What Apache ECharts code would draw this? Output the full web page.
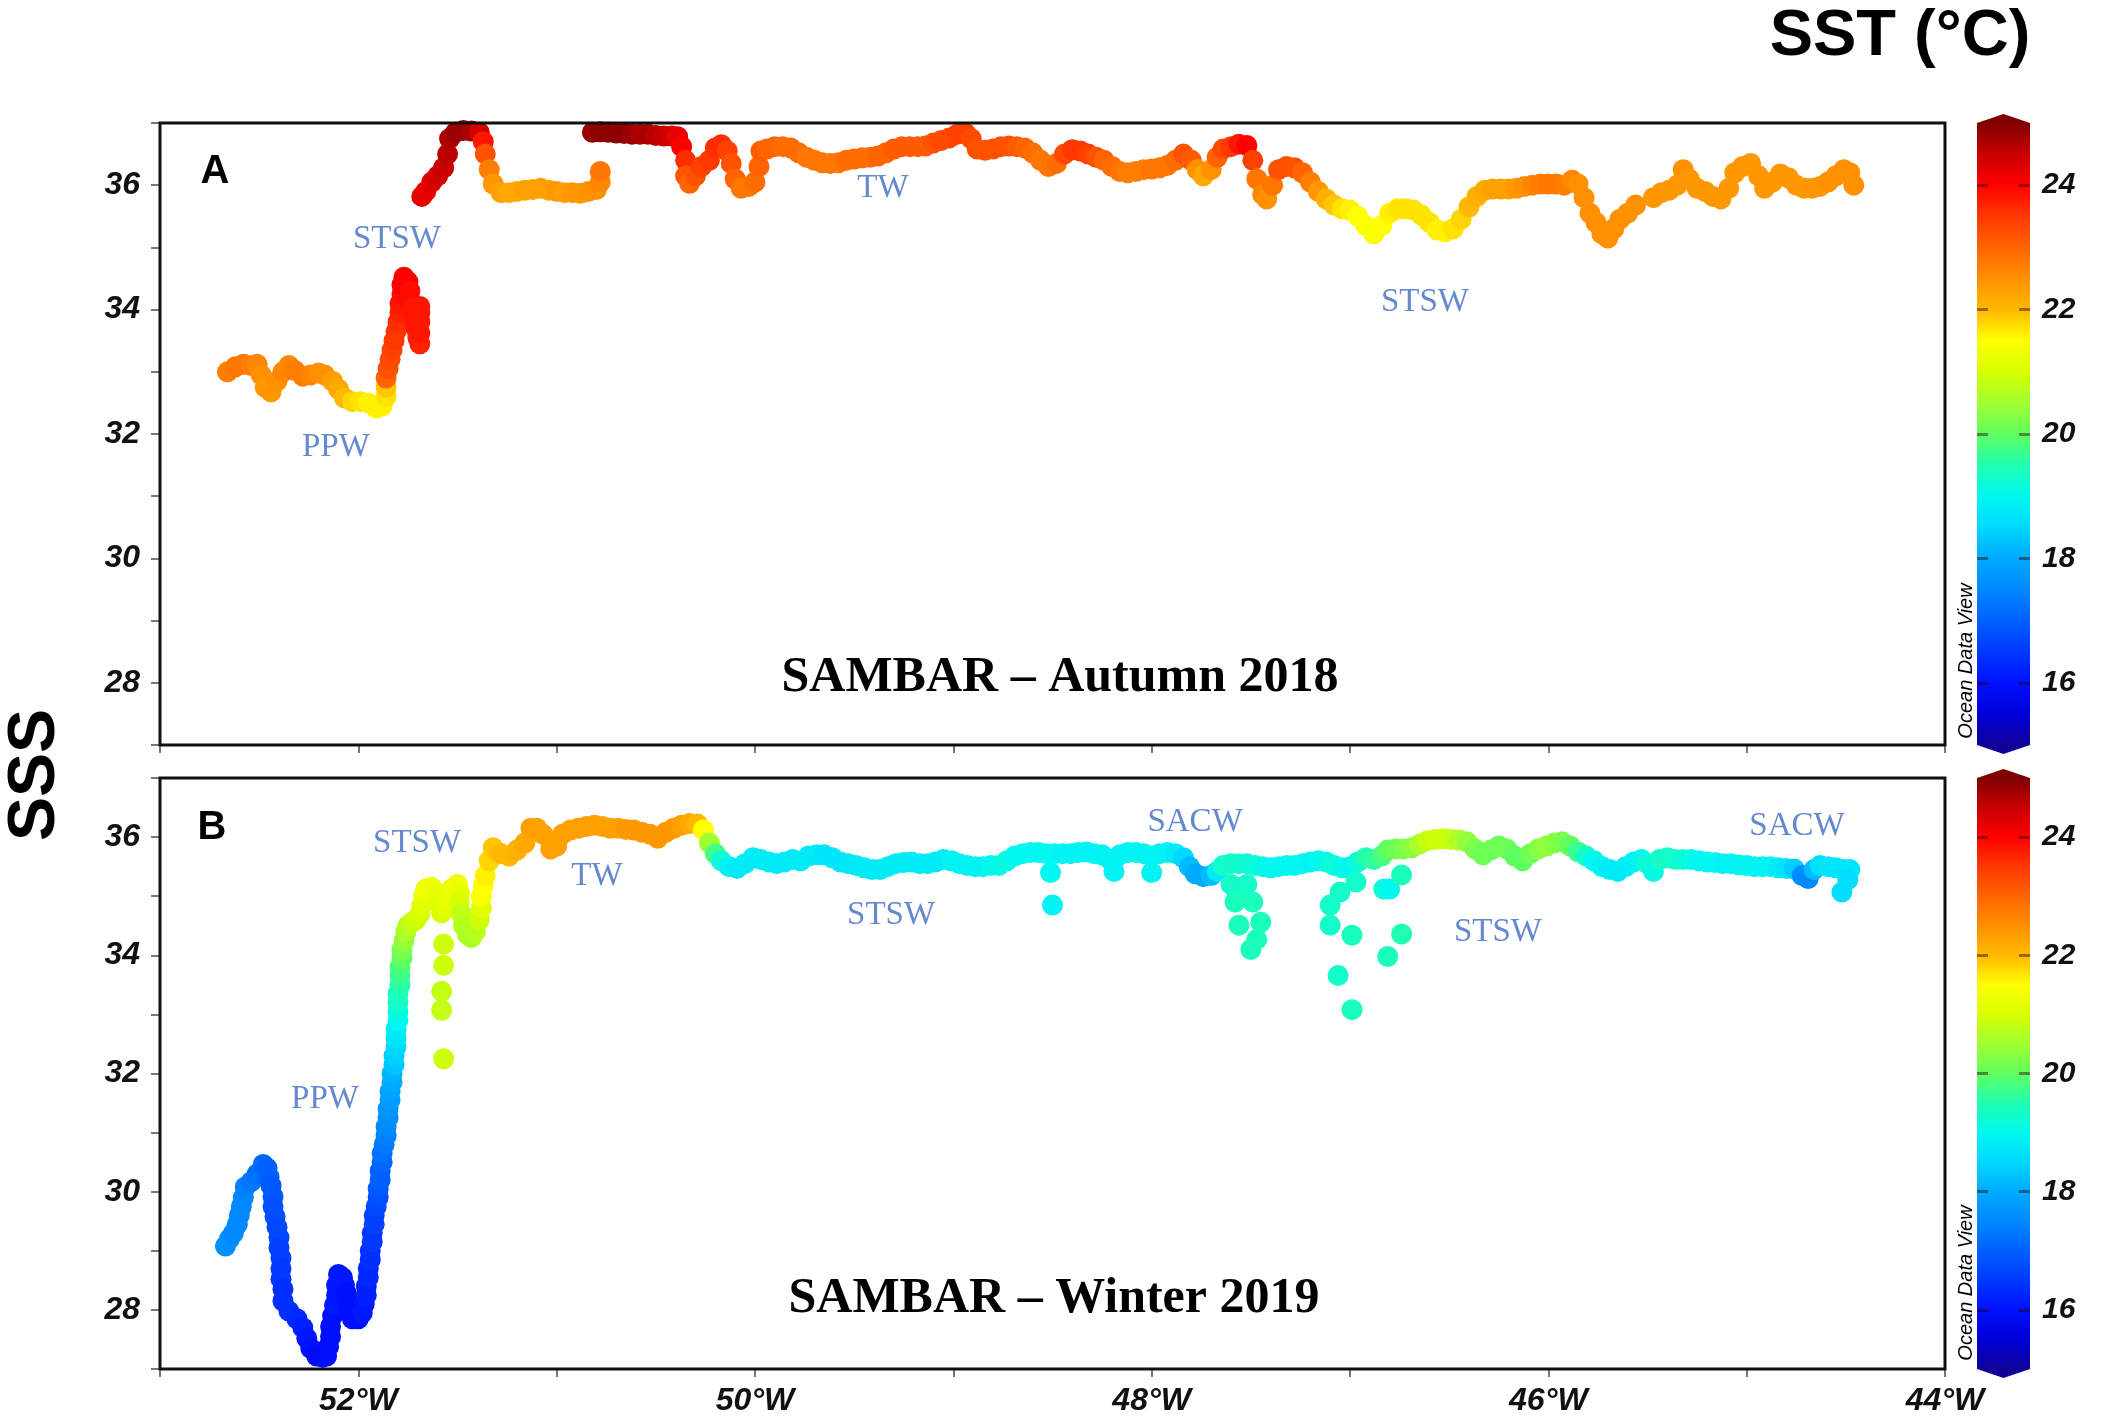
<!DOCTYPE html>
<html>
<head>
<meta charset="utf-8">
<title>SAMBAR SSS / SST</title>
<script src="https://cdn.jsdelivr.net/npm/echarts@6.0.0/dist/echarts.min.js"></script>
<style>
html, body { margin: 0; padding: 0; background: #fff; }
#chart { width: 2104px; height: 1424px; }
</style>
</head>
<body>
<div id="chart"></div>
<script>
// ---- Autumn 2018 track (lon, SSS, SST) ----
const lonA = [
  -52.66,-52.62,-52.58,-52.54,-52.51,-52.49,-52.47,-52.44,-52.41,-52.38,
  -52.35,-52.32,-52.28,-52.24,-52.20,-52.17,-52.13,-52.10,-52.07,-52.03,
  -51.99,-51.95,-51.91,-51.88,-51.86,-51.86,-51.86,-51.85,-51.84,-51.83,
  -51.82,-51.81,-51.80,-51.79,-51.79,-51.78,-51.78,-51.77,-51.75,-51.74,
  -51.74,-51.73,-51.72,-51.71,-51.70,-51.69,-51.69,-51.69,-51.69,-51.69,
  -51.68,-51.66,-51.63,-51.60,-51.57,-51.55,-51.54,-51.51,-51.47,-51.43,
  -51.39,-51.37,-51.36,-51.34,-51.32,-51.28,-51.24,-51.20,-51.16,-51.12,
  -51.08,-51.04,-51.00,-50.96,-50.92,-50.88,-50.84,-50.80,-50.78,-50.78,
  -50.82,-50.78,-50.74,-50.70,-50.66,-50.62,-50.58,-50.54,-50.50,-50.46,
  -50.42,-50.39,-50.37,-50.35,-50.35,-50.33,-50.30,-50.27,-50.23,-50.20,
  -50.17,-50.14,-50.12,-50.10,-50.07,-50.03,-50.00,-49.98,-49.97,-49.94,
  -49.90,-49.86,-49.82,-49.78,-49.74,-49.70,-49.66,-49.62,-49.58,-49.54,
  -49.50,-49.46,-49.42,-49.38,-49.34,-49.30,-49.26,-49.22,-49.18,-49.14,
  -49.10,-49.06,-49.02,-48.98,-48.94,-48.91,-48.88,-48.84,-48.80,-48.76,
  -48.72,-48.68,-48.64,-48.60,-48.56,-48.52,-48.48,-48.44,-48.40,-48.36,
  -48.32,-48.28,-48.24,-48.20,-48.16,-48.12,-48.08,-48.04,-48.00,-47.96,
  -47.92,-47.88,-47.84,-47.80,-47.77,-47.74,-47.70,-47.67,-47.64,-47.60,
  -47.56,-47.52,-47.49,-47.47,-47.44,-47.42,-47.39,-47.36,-47.32,-47.28,
  -47.24,-47.20,-47.16,-47.12,-47.08,-47.04,-47.00,-46.96,-46.92,-46.88,
  -46.84,-46.80,-46.76,-46.72,-46.68,-46.64,-46.60,-46.56,-46.52,-46.48,
  -46.44,-46.40,-46.36,-46.32,-46.28,-46.24,-46.20,-46.16,-46.12,-46.08,
  -46.04,-46.00,-45.96,-45.92,-45.88,-45.85,-45.82,-45.79,-45.76,-45.73,
  -45.70,-45.67,-45.64,-45.60,-45.56,-45.47,-45.43,-45.39,-45.35,-45.32,
  -45.29,-45.25,-45.21,-45.17,-45.13,-45.09,-45.06,-45.02,-44.98,-44.94,
  -44.91,-44.87,-44.83,-44.79,-44.75,-44.71,-44.67,-44.63,-44.59,-44.55,
  -44.51,-44.48,-44.46
];
const sssA = [
  33.00,33.08,33.12,33.10,33.12,32.95,32.75,32.68,32.85,33.00,
  33.10,33.02,32.93,32.95,32.98,32.95,32.85,32.72,32.58,32.52,
  32.52,32.50,32.42,32.45,32.60,32.75,32.90,33.05,33.20,33.35,
  33.50,33.65,33.80,33.95,34.10,34.25,34.40,34.52,34.45,34.30,
  34.15,34.00,33.85,33.70,33.55,33.45,33.62,33.80,33.95,34.05,
  35.82,35.90,36.05,36.15,36.28,36.50,36.75,36.85,36.88,36.87,
  36.85,36.70,36.50,36.25,36.02,35.88,35.88,35.90,35.92,35.93,
  35.95,35.92,35.90,35.88,35.88,35.87,35.90,35.93,36.05,36.22,
  36.85,36.86,36.85,36.84,36.83,36.82,36.82,36.82,36.80,36.79,
  36.79,36.78,36.62,36.40,36.15,36.03,36.15,36.30,36.40,36.60,
  36.65,36.55,36.35,36.10,35.95,35.98,36.05,36.30,36.55,36.58,
  36.62,36.62,36.60,36.52,36.45,36.40,36.36,36.35,36.36,36.40,
  36.42,36.44,36.45,36.47,36.52,36.58,36.62,36.62,36.62,36.63,
  36.68,36.72,36.76,36.82,36.84,36.75,36.58,36.56,36.58,36.62,
  36.63,36.62,36.60,36.52,36.40,36.30,36.35,36.50,36.57,36.55,
  36.50,36.45,36.40,36.30,36.22,36.20,36.22,36.25,36.26,36.28,
  36.32,36.40,36.50,36.40,36.25,36.15,36.25,36.45,36.58,36.62,
  36.66,36.64,36.40,36.10,35.85,35.78,36.00,36.25,36.30,36.28,
  36.20,36.05,35.90,35.78,35.68,35.62,35.60,35.50,35.35,35.22,
  35.35,35.55,35.62,35.62,35.60,35.52,35.40,35.28,35.25,35.30,
  35.45,35.65,35.82,35.92,35.94,35.94,35.94,35.95,35.98,36.00,
  36.02,36.02,36.02,36.00,36.08,36.02,35.80,35.55,35.40,35.22,
  35.15,35.30,35.45,35.55,35.68,35.80,35.88,35.92,36.00,36.25,
  36.10,35.95,35.90,35.82,35.78,35.95,36.20,36.30,36.35,36.15,
  35.95,36.05,36.18,36.12,36.00,35.95,35.95,35.98,36.05,36.15,
  36.25,36.20,36.00
];
const sstA = [
  22.7,22.8,22.8,22.7,22.6,22.5,22.4,22.4,22.5,22.6,
  22.6,22.7,22.7,22.6,22.5,22.5,22.3,22.2,22.0,21.8,
  21.7,21.6,21.6,21.6,21.7,21.9,23.0,23.2,23.3,23.4,
  23.5,23.5,23.6,23.7,23.8,23.9,24.0,24.0,24.0,23.9,
  23.9,23.8,23.8,23.8,23.7,23.7,23.8,23.8,23.8,23.8,
  24.2,24.2,24.3,24.4,24.5,24.6,24.7,24.8,24.8,24.7,
  24.4,23.8,23.2,22.7,22.4,22.3,22.2,22.2,22.3,22.3,
  22.3,22.3,22.4,22.3,22.4,22.4,22.5,22.5,22.6,22.8,
  24.8,24.9,24.9,24.9,24.9,24.8,24.7,24.7,24.6,24.5,
  24.4,24.2,24.0,23.6,23.2,23.0,23.2,23.4,23.5,23.6,
  23.6,23.4,23.2,23.0,22.8,22.8,22.9,23.0,23.1,23.0,
  23.0,22.9,22.9,22.9,22.8,22.8,22.8,22.8,22.8,22.9,
  22.9,22.9,22.9,23.0,23.0,23.1,23.1,23.1,23.1,23.1,
  23.2,23.3,23.3,23.4,23.4,23.3,23.2,23.2,23.2,23.2,
  23.2,23.1,23.0,22.9,22.8,22.8,22.9,23.3,23.5,23.5,
  23.4,23.2,23.0,22.9,22.8,22.7,22.7,22.7,22.8,22.8,
  22.8,22.9,23.2,23.1,22.5,22.2,22.5,23.0,23.3,23.5,
  23.8,24.0,23.4,22.8,22.6,22.5,22.8,23.2,23.2,23.2,
  23.0,22.7,22.4,22.1,21.9,21.7,21.6,21.5,21.5,21.4,
  21.5,21.6,21.7,21.7,21.7,21.7,21.7,21.6,21.6,21.7,
  21.8,22.0,22.1,22.2,22.3,22.3,22.3,22.4,22.5,22.6,
  22.7,22.8,22.8,22.7,22.6,22.5,22.5,22.5,22.5,22.5,
  22.5,22.5,22.5,22.5,22.5,22.4,22.4,22.4,22.4,22.5,
  22.4,22.4,22.4,22.4,22.4,22.4,22.4,22.4,22.4,22.4,
  22.4,22.4,22.4,22.4,22.4,22.4,22.4,22.4,22.5,22.5,
  22.5,22.5,22.5
];

// ---- Winter 2019 track ----
const lonB = [
  -52.67,-52.65,-52.63,-52.61,-52.60,-52.59,-52.58,-52.57,-52.54,-52.51,
  -52.48,-52.46,-52.45,-52.44,-52.43,-52.43,-52.42,-52.41,-52.40,-52.40,
  -52.39,-52.39,-52.39,-52.38,-52.38,-52.35,-52.31,-52.28,-52.26,-52.24,
  -52.21,-52.18,-52.16,-52.15,-52.14,-52.14,-52.13,-52.12,-52.11,-52.11,
  -52.10,-52.08,-52.07,-52.06,-52.05,-52.04,-52.03,-52.00,-51.98,-51.97,
  -51.96,-51.96,-51.95,-51.95,-51.94,-51.94,-51.93,-51.93,-51.92,-51.92,
  -51.91,-51.90,-51.90,-51.89,-51.89,-51.88,-51.88,-51.87,-51.86,-51.86,
  -51.85,-51.85,-51.84,-51.84,-51.83,-51.83,-51.82,-51.82,-51.81,-51.81,
  -51.81,-51.80,-51.80,-51.80,-51.80,-51.79,-51.79,-51.79,-51.78,-51.78,
  -51.77,-51.76,-51.75,-51.73,-51.71,-51.69,-51.68,-51.67,-51.66,-51.63,
  -51.60,-51.59,-51.58,-51.56,-51.55,-51.53,-51.50,-51.49,-51.49,-51.48,
  -51.47,-51.45,-51.43,-51.41,-51.39,-51.38,-51.38,-51.37,-51.36,-51.34,
  -51.32,-51.28,-51.24,-51.20,-51.16,-51.13,-51.10,
  -51.07,-51.03,-51.00,-50.97,-50.93,-50.89,-50.85,-50.81,-50.77,-50.73,
  -50.69,-50.65,-50.61,-50.57,-50.53,-50.49,-50.45,-50.41,-50.37,-50.33,
  -50.29,-50.26,-50.23,-50.20,-50.17,-50.13,-50.09,-50.05,-50.01,-49.97,
  -49.93,-49.89,-49.85,-49.81,-49.77,-49.73,-49.69,-49.65,-49.61,-49.57,
  -49.53,-49.49,-49.45,-49.41,-49.37,-49.33,-49.29,-49.25,-49.21,-49.17,
  -49.13,-49.09,-49.05,-49.01,-48.97,-48.93,-48.89,-48.85,-48.81,-48.77,
  -48.73,-48.69,-48.65,-48.61,-48.57,-48.53,-48.51,-48.49,-48.45,-48.41,
  -48.37,-48.33,-48.29,-48.25,-48.21,-48.19,-48.16,-48.12,-48.08,-48.04,
  -48.00,-48.00,-47.96,-47.92,-47.88,-47.84,-47.81,-47.78,-47.74,-47.70,
  -47.67,-47.64,-47.60,-47.56,-47.52,-47.48,-47.44,-47.40,-47.36,-47.32,
  -47.28,-47.24,-47.20,-47.16,-47.12,-47.08,-47.04,-47.00,-46.96,-46.92,
  -46.88,-46.84,-46.81,-46.77,-46.73,-46.69,-46.65,-46.61,-46.57,-46.53,
  -46.49,-46.45,-46.41,-46.37,-46.33,-46.29,-46.25,-46.21,-46.17,-46.13,
  -46.09,-46.05,-46.01,-45.97,-45.93,-45.89,-45.85,-45.81,-45.77,-45.73,
  -45.69,-45.65,-45.61,-45.57,-45.53,-45.50,-45.47,-45.44,-45.40,-45.36,
  -45.32,-45.28,-45.24,-45.20,-45.16,-45.12,-45.08,-45.04,-45.00,-44.96,
  -44.92,-44.88,-44.84,-44.80,-44.76,-44.72,-44.69,-44.66,-44.63,-44.59,
  -44.55,-44.51,-44.48,-44.49,-44.52
];
const sssB = [
  29.08,29.20,29.30,29.45,29.60,29.75,29.90,30.08,30.17,30.30,
  30.46,30.40,30.25,30.10,29.92,29.75,29.58,29.40,29.22,29.05,
  28.88,28.70,28.52,28.35,28.15,27.98,27.85,27.70,27.52,27.35,
  27.22,27.20,27.22,27.38,27.55,27.72,27.90,28.08,28.25,28.42,
  28.60,28.55,28.42,28.28,28.12,27.98,27.85,27.85,27.95,28.10,
  28.25,28.40,28.55,28.70,28.85,29.00,29.15,29.30,29.45,29.60,
  29.75,29.90,30.05,30.20,30.35,30.50,30.65,30.80,30.95,31.10,
  31.25,31.40,31.55,31.70,31.85,32.00,32.15,32.30,32.45,32.60,
  32.75,32.90,33.05,33.20,33.35,33.50,33.65,33.80,33.95,34.10,
  34.25,34.40,34.50,34.56,34.60,34.70,34.85,35.00,35.12,35.15,
  35.05,34.88,34.72,34.80,34.95,35.12,35.20,35.05,34.90,34.70,
  34.50,34.35,34.30,34.40,34.60,34.80,35.00,35.18,35.35,35.60,
  35.82,35.72,35.68,35.78,35.90,36.15,36.15,
  36.05,35.80,35.85,36.05,36.12,36.15,36.18,36.20,36.18,36.15,
  36.15,36.13,36.12,36.08,36.05,35.98,36.08,36.15,36.20,36.23,
  36.22,36.12,35.90,35.72,35.60,35.50,35.47,35.55,35.65,35.62,
  35.58,35.55,35.58,35.62,35.60,35.68,35.70,35.70,35.65,35.58,
  35.55,35.52,35.48,35.45,35.45,35.50,35.55,35.57,35.58,35.55,
  35.55,35.58,35.62,35.60,35.55,35.52,35.50,35.50,35.52,35.52,
  35.60,35.68,35.72,35.74,35.74,35.72,35.40,35.72,35.72,35.72,
  35.74,35.75,35.72,35.70,35.62,35.42,35.70,35.74,35.74,35.72,
  35.68,35.40,35.72,35.74,35.72,35.65,35.50,35.38,35.33,35.35,
  35.42,35.52,35.55,35.55,35.55,35.52,35.50,35.48,35.50,35.52,
  35.52,35.55,35.58,35.60,35.58,35.52,35.48,35.50,35.58,35.65,
  35.62,35.68,35.78,35.80,35.80,35.82,35.88,35.94,35.96,35.97,
  35.96,35.95,35.92,35.80,35.70,35.78,35.85,35.80,35.68,35.60,
  35.72,35.80,35.85,35.90,35.92,35.85,35.75,35.68,35.60,35.50,
  35.45,35.42,35.50,35.58,35.62,35.55,35.42,35.62,35.65,35.62,
  35.62,35.62,35.60,35.58,35.57,35.55,35.55,35.53,35.52,35.50,
  35.50,35.50,35.48,35.47,35.46,35.35,35.30,35.45,35.52,35.50,
  35.48,35.45,35.45,35.28,35.07
];
const sstB = [
  17.6,17.6,17.5,17.5,17.5,17.5,17.5,17.4,17.3,17.2,
  17.1,17.0,17.0,16.9,16.9,16.8,16.8,16.7,16.7,16.6,
  16.6,16.5,16.5,16.4,16.4,16.4,16.3,16.2,16.1,16.0,
  15.9,15.9,15.9,16.0,16.0,16.0,16.0,16.1,16.1,16.1,
  16.1,16.1,16.1,16.0,16.0,16.0,16.0,16.0,16.1,16.1,
  16.2,16.2,16.3,16.3,16.4,16.4,16.5,16.5,16.6,16.6,
  16.7,16.8,16.9,17.0,17.0,17.1,17.2,17.3,17.4,17.5,
  17.6,17.7,17.8,17.9,18.0,18.1,18.3,18.4,18.5,18.7,
  18.8,19.0,19.1,19.3,19.4,19.5,19.7,19.8,20.0,20.2,
  20.4,20.6,20.7,20.8,20.9,21.0,21.1,21.2,21.3,21.3,
  21.2,21.1,21.0,21.1,21.2,21.3,21.3,21.2,21.0,20.8,
  20.7,20.6,20.6,20.7,20.9,21.1,21.4,21.5,21.6,21.8,
  21.9,22.0,22.0,22.1,22.2,22.3,22.3,
  22.3,22.3,22.3,22.3,22.3,22.3,22.3,22.3,22.3,22.3,
  22.3,22.4,22.4,22.4,22.4,22.4,22.4,22.4,22.3,22.2,
  22.0,21.5,20.5,19.8,19.2,18.9,18.8,18.8,18.8,18.8,
  18.8,18.8,18.8,18.8,18.8,18.8,18.8,18.7,18.7,18.7,
  18.7,18.8,18.8,18.8,18.8,18.8,18.8,18.8,18.8,18.8,
  18.8,18.8,18.8,18.9,18.9,18.9,18.9,18.9,19.0,19.1,
  19.1,19.0,19.0,19.0,19.0,19.0,19.0,19.0,18.9,18.9,
  18.9,18.9,18.9,18.9,18.9,18.9,18.9,18.9,18.9,18.9,
  18.9,18.9,18.9,18.9,18.8,18.5,18.2,18.0,18.0,18.2,
  18.8,19.3,19.3,19.3,19.2,19.2,19.1,19.0,19.0,19.0,
  19.0,19.0,18.9,19.0,19.1,19.2,19.1,19.0,19.2,19.5,
  19.6,19.8,20.0,20.1,20.2,20.3,20.6,20.8,20.9,20.9,
  20.8,20.6,20.4,20.2,20.1,20.1,20.1,20.1,20.0,20.0,
  20.1,20.3,20.4,20.3,20.2,20.0,19.7,19.3,19.0,18.9,
  18.8,18.8,18.8,18.9,19.0,19.2,19.1,19.3,19.3,19.3,
  19.2,19.1,19.0,19.0,19.0,18.9,18.9,18.9,18.9,18.9,
  18.9,18.9,18.8,18.7,18.4,17.6,17.5,18.2,18.6,18.7,
  18.7,18.7,18.7,18.6,18.6
];

// ---- Winter 2019 isolated low-salinity samples ----
const lonBx = [
  -51.57,-51.57,-51.58,-51.58,-51.57,-48.50,-47.60,-47.57,-47.58,-47.56,
  -47.50,-47.47,-47.45,-47.49,-47.52,-47.10,-47.10,-47.06,-46.99,-47.05,
  -46.99,-46.97,-46.83,-46.81,-46.74,-46.80,-46.74
];
const sssBx = [
  34.19,33.83,33.39,33.07,32.25,34.85,35.20,35.05,34.90,34.51,
  34.10,34.27,34.56,34.90,35.20,34.85,34.51,33.66,33.08,35.07,
  34.34,35.24,35.12,33.98,34.36,35.12,35.36
];
const sstBx = [
  20.9,20.9,20.8,20.8,20.9,18.9,19.3,19.3,19.4,19.4,
  19.4,19.4,19.4,19.4,19.3,19.3,19.3,19.3,19.4,19.3,
  19.4,19.3,19.2,19.4,19.5,19.0,19.4
];

// water mass annotations
const massNamesA = ['STSW', 'PPW', 'TW', 'STSW'];
const massLonA = [-51.805, -52.113, -49.355, -46.622];
const massSssA = [35.135, 31.79, 35.955, 34.12];
const massNamesB = ['STSW', 'TW', 'PPW', 'STSW', 'SACW', 'SACW', 'STSW'];
const massLonB = [-51.704, -50.797, -52.168, -49.314, -47.781, -44.746, -46.254];
const massSssB = [35.90, 35.342, 31.57, 34.682, 36.255, 36.188, 34.394];

// ticks
const lonTicks = [-52, -50, -48, -46, -44];
const sssTicks = [28, 30, 32, 34, 36];
const sstTicks = [16, 18, 20, 22, 24];
const sstMin = 15, sstMax = 25;
// ODV style palette, 15..25 in 0.5 steps
const sstColors = [
  '#10009a', '#0000d8', '#0010ff', '#0038ff', '#0060ff', '#0088ff', '#00aaff',
  '#00d8ff', '#00f8f0', '#20ffb0', '#60ff60', '#a0ff30', '#d8ff00', '#ffff00',
  '#ffb800', '#ff9000', '#ff6400', '#ff3800', '#ff0000', '#c80000', '#800000'
];

const zip = (lon, sss, sst) => lon.map((x, i) => [x, sss[i], sst[i]]);

let chart = echarts.init(document.getElementById('chart'));

const tickFont = {
  fontFamily: '"Liberation Sans", Arial, sans-serif',
  fontWeight: 'bold',
  fontStyle: 'italic',
  color: '#111'
};

function lonAxis(gridIndex, showLabel) {
  return {
    type: 'value', gridIndex: gridIndex, min: -53, max: -44, interval: 1,
    axisLine: { show: false },
    axisTick: { show: true, length: 8, lineStyle: { color: '#777', width: 2 } },
    axisLabel: Object.assign({
      show: showLabel, customValues: lonTicks, margin: 16, fontSize: 32,
      formatter: v => Math.abs(v) + '°W'
    }, tickFont),
    splitLine: { show: false }
  };
}

function sssAxis(gridIndex) {
  return {
    type: 'value', gridIndex: gridIndex, min: 27, max: 37, interval: 1,
    axisLine: { show: false },
    axisTick: { show: true, length: 9, lineStyle: { color: '#777', width: 2 } },
    axisLabel: Object.assign({ customValues: sssTicks, margin: 20, fontSize: 32 }, tickFont),
    splitLine: { show: false }
  };
}

function barAxis(gridIndex, side) {
  return {
    type: 'value', gridIndex: gridIndex, min: sstMin, max: sstMax, position: side, z: 5,
    axisLine: { show: false },
    axisTick: {
      show: true, inside: true, length: 11, customValues: sstTicks,
      lineStyle: { color: 'rgba(40,0,0,0.45)', width: 3 }
    },
    axisLabel: Object.assign({
      show: side === 'right', customValues: sstTicks, margin: 12, fontSize: 30
    }, tickFont),
    splitLine: { show: false }
  };
}

function colorBar(xi, yi) {
  return {
    type: 'custom', xAxisIndex: xi, yAxisIndex: yi, clip: false, silent: true,
    data: [[0.5, 20]],
    renderItem: function (params, api) {
      const p0 = api.coord([0, sstMax]);
      const p1 = api.coord([1, sstMin]);
      const x0 = p0[0], x1 = p1[0], yT = p0[1], yB = p1[1];
      const xm = (x0 + x1) / 2, tip = 9;
      const stops = sstColors.map((c, i) => ({
        offset: 1 - i / (sstColors.length - 1), color: c
      })).reverse();
      return {
        type: 'polygon',
        shape: { points: [[x0, yT], [xm, yT - tip], [x1, yT], [x1, yB], [xm, yB + tip], [x0, yB]] },
        style: { fill: new echarts.graphic.LinearGradient(0, yT, 0, yB, stops, true) }
      };
    }
  };
}

function trackSeries(xi, yi, data) {
  return {
    type: 'scatter', xAxisIndex: xi, yAxisIndex: yi, data: data,
    symbolSize: 21, clip: true, emphasis: { disabled: true },
    itemStyle: { opacity: 1 }
  };
}

function massLabels(xi, yi, names, lons, sss) {
  return {
    type: 'scatter', xAxisIndex: xi, yAxisIndex: yi, symbolSize: 0, silent: true, clip: false,
    data: names.map((n, i) => [lons[i], sss[i], n]),
    itemStyle: { color: 'transparent' },
    label: {
      show: true, position: 'inside', formatter: p => p.value[2],
      fontFamily: '"Liberation Serif", "Times New Roman", serif',
      fontSize: 33, color: '#3f6cc0'
    }
  };
}

function txt(text, x, y, font, extra) {
  return Object.assign({
    type: 'text', x: x, y: y, z: 20,
    style: {
      text: text, font: font, fill: '#000',
      textAlign: 'center', textVerticalAlign: 'middle',
      align: 'center', verticalAlign: 'middle'
    }
  }, extra || {});
}

const sansBold = '"Liberation Sans", Arial, sans-serif';
const serifBold = 'bold 50px "Liberation Serif", "Times New Roman", serif';

let option = {
  animation: false,
  backgroundColor: '#fff',
  grid: [
    { left: 160, top: 123, width: 1785, height: 622, show: true, z: 3,
      borderColor: '#111', borderWidth: 3, backgroundColor: 'transparent' },
    { left: 160, top: 778, width: 1785, height: 591, show: true, z: 3,
      borderColor: '#111', borderWidth: 3, backgroundColor: 'transparent' },
    { left: 1977, top: 123, width: 53, height: 622 },
    { left: 1977, top: 778, width: 53, height: 591 }
  ],
  xAxis: [
    lonAxis(0, false),
    lonAxis(1, true),
    { type: 'value', gridIndex: 2, min: 0, max: 1, show: false },
    { type: 'value', gridIndex: 3, min: 0, max: 1, show: false }
  ],
  yAxis: [
    sssAxis(0),
    sssAxis(1),
    barAxis(2, 'left'),
    barAxis(2, 'right'),
    barAxis(3, 'left'),
    barAxis(3, 'right')
  ],
  visualMap: {
    type: 'continuous', show: false, dimension: 2,
    min: sstMin, max: sstMax, seriesIndex: [0, 1, 2],
    inRange: { color: sstColors }
  },
  series: [
    trackSeries(0, 0, zip(lonA, sssA, sstA)),
    trackSeries(1, 1, zip(lonB, sssB, sstB)),
    trackSeries(1, 1, zip(lonBx, sssBx, sstBx)),
    massLabels(0, 0, massNamesA, massLonA, massSssA),
    massLabels(1, 1, massNamesB, massLonB, massSssB),
    colorBar(2, 3),
    colorBar(3, 5)
  ],
  graphic: [
    txt('SST (°C)', 1900, 37, 'bold 65px ' + sansBold),
    txt('SSS', 36, 775, 'bold 66px ' + sansBold, { rotation: Math.PI / 2 }),
    txt('A', 215, 172, 'bold 40px ' + sansBold),
    txt('B', 212, 828, 'bold 40px ' + sansBold),
    txt('SAMBAR – Autumn 2018', 1060, 678, serifBold),
    txt('SAMBAR – Winter 2019', 1054, 1299, serifBold),
    txt('Ocean Data View', 1966, 661, 'italic 20px ' + sansBold, { rotation: Math.PI / 2 }),
    txt('Ocean Data View', 1966, 1283, 'italic 20px ' + sansBold, { rotation: Math.PI / 2 })
  ]
};

chart.setOption(option, true);
</script>
</body>
</html>
